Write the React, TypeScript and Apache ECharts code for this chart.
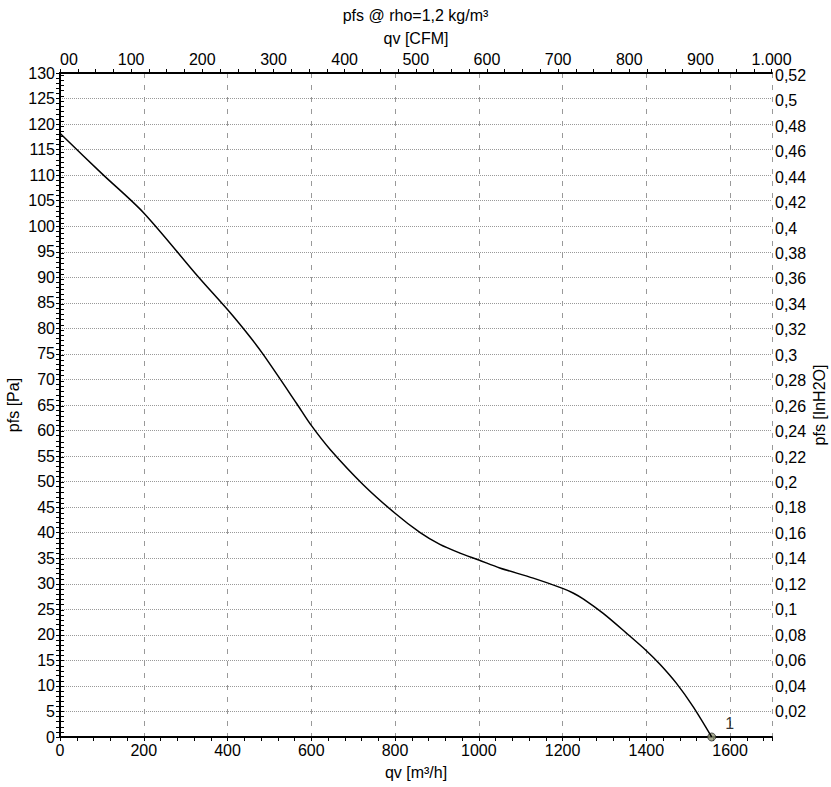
import React, { useEffect, useRef } from "react";
import * as echarts from "echarts";

// Fan curve: static pressure vs volume flow
const qvM3h = [0, 100, 200, 330, 406, 454, 486, 565, 600, 645, 724, 800, 860, 907, 955, 1000, 1050, 1130, 1200, 1225, 1250, 1297, 1353, 1400, 1433, 1472, 1512, 1556];
const pfsPa = [118.2, 110.3, 102.6, 90.1, 83.1, 78.3, 74.8, 65.3, 61.0, 56.3, 49.4, 43.8, 40.0, 37.7, 36.0, 34.65, 33.1, 31.1, 29.1, 28.2, 27.0, 24.2, 20.3, 16.9, 14.2, 10.5, 5.9, 0];
const operatingPoint = [1556, 0];
const operatingLabel = "1";

const qvMax = 1700;
const pfsMax = 130;
const M3H_PER_CFM = 1.699;
const PA_PER_INH2O = 249.089;

const titleText = "pfs @ rho=1,2 kg/m³";
const bottomName = "qv [m³/h]";
const topName = "qv [CFM]";
const leftName = "pfs [Pa]";
const rightName = "pfs [InH2O]";

const FONT = "Liberation Sans, Arial, sans-serif";
const FS = 16;

export default function App() {
  const ref = useRef<HTMLDivElement>(null);
  useEffect(() => {
    if (!ref.current) return;
    const chart = echarts.init(ref.current, null, { renderer: "svg" });
    const txt = { color: "#000", fontFamily: FONT, fontSize: FS };
    const axisLine = { show: true, lineStyle: { color: "#000", width: 2 } };
    const tick = { show: true, inside: false, length: 4, lineStyle: { color: "#000", width: 1 } };
    chart.setOption({
      animation: false,
      backgroundColor: "#fff",
      title: {
        text: titleText,
        left: "center",
        top: 2,
        textStyle: { ...txt, fontWeight: "normal" },
      },
      grid: { left: 60, right: 59, top: 73, bottom: 50, containLabel: false, outerBoundsMode: "none" },
      xAxis: [
        {
          type: "value",
          position: "bottom",
          min: 0,
          max: qvMax,
          interval: 40,
          name: bottomName,
          nameLocation: "middle",
          nameGap: 27,
          nameMoveOverlap: false,
          nameTextStyle: txt,
          axisLine,
          axisTick: tick,
          axisLabel: {
            ...txt,
            margin: 5,
            formatter: (v: number) => (Math.round(v) % 200 === 0 ? String(Math.round(v)) : ""),
          },
          splitLine: { show: false },
        },
        {
          type: "value",
          position: "bottom",
          min: 0,
          max: qvMax,
          interval: 200,
          axisLine: { show: false },
          axisTick: { show: false },
          axisLabel: { show: false },
          splitLine: { show: true, lineStyle: { color: "#999", width: 1, type: [5, 7] } },
        },
        {
          type: "value",
          position: "top",
          min: 0,
          max: qvMax / M3H_PER_CFM,
          interval: 25,
          name: topName,
          nameLocation: "middle",
          nameGap: 27,
          nameMoveOverlap: false,
          nameTextStyle: txt,
          axisLine,
          axisTick: tick,
          axisLabel: {
            ...txt,
            margin: 6,
            showMaxLabel: false,
            alignMinLabel: "left",
            formatter: (v: number) => {
              const r = Math.round(v);
              if (Math.abs(v - r) > 1e-6 || r % 100 !== 0) return "";
              if (r === 0) return "00";
              if (r >= 1000) return "1.000";
              return String(r);
            },
          },
          splitLine: { show: false },
        },
      ],
      yAxis: [
        {
          type: "value",
          position: "left",
          min: 0,
          max: pfsMax,
          interval: 5,
          name: leftName,
          nameLocation: "middle",
          nameRotate: 90,
          nameGap: 39,
          nameMoveOverlap: false,
          nameTextStyle: txt,
          axisLine,
          axisTick: tick,
          minorTick: { show: true, splitNumber: 5, length: 4, lineStyle: { color: "#000", width: 1 } },
          axisLabel: { ...txt, margin: 5 },
          splitLine: { show: true, lineStyle: { color: "#999", width: 1, type: [1, 1] } },
        },
        {
          type: "value",
          position: "right",
          min: 0,
          max: pfsMax / PA_PER_INH2O,
          interval: 0.02,
          name: rightName,
          nameLocation: "middle",
          nameRotate: 90,
          nameGap: 39,
          nameMoveOverlap: false,
          nameTextStyle: txt,
          axisLine,
          axisTick: tick,
          minorTick: { show: true, splitNumber: 5, length: 4, lineStyle: { color: "#000", width: 1 } },
          axisLabel: {
            ...txt,
            margin: 3,
            showMinLabel: false,
            showMaxLabel: false,
            formatter: (v: number) => String(+v.toFixed(2)).replace(".", ","),
          },
          splitLine: { show: false },
        },
      ],
      series: [
        {
          type: "line",
          xAxisIndex: 0,
          yAxisIndex: 0,
          data: qvM3h.map((q, i) => [q, pfsPa[i]]),
          smooth: 0.3,
          symbol: "none",
          lineStyle: { color: "#000", width: 1.5 },
          silent: true,
        },
        {
          type: "scatter",
          xAxisIndex: 0,
          yAxisIndex: 0,
          data: [operatingPoint],
          symbol: "circle",
          symbolSize: 8,
          clip: false,
          itemStyle: { color: "#8f9474", borderColor: "#333", borderWidth: 1 },
          label: {
            show: true,
            formatter: operatingLabel,
            position: "top",
            offset: [18, 4],
            color: "#000",
            fontFamily: FONT,
            fontSize: FS,
            textBorderWidth: 0,
          },
          silent: true,
        },
      ],
    });
    return () => chart.dispose();
  }, []);
  return (
    <div
      ref={ref}
      style={{ position: "absolute", left: 0, top: 0, width: 831, height: 787, background: "#fff" }}
    />
  );
}
